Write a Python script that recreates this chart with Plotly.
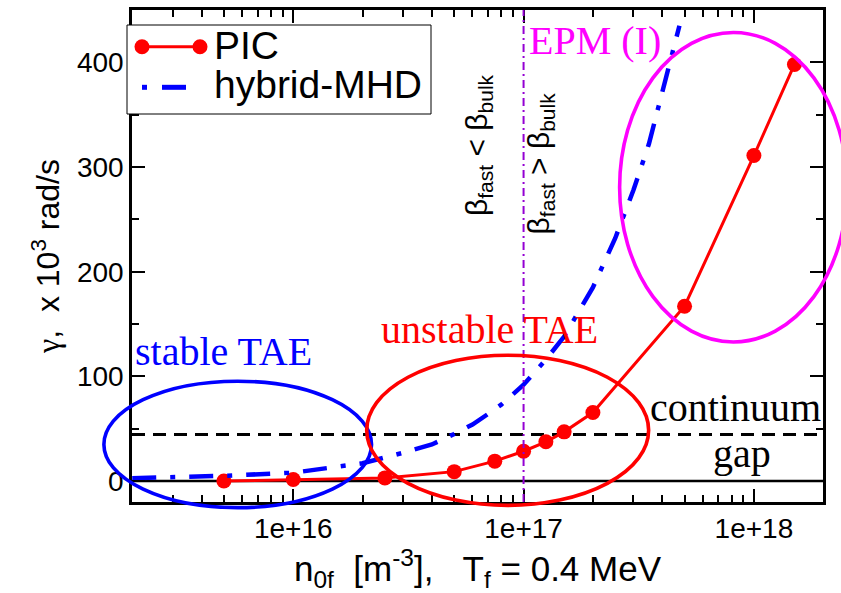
import numpy as np
import plotly.graph_objects as go

# ---- data -------------------------------------------------------------
# PIC growth rates (gamma, 10^3 rad/s) versus fast-ion density n_0f (m^-3)
pic_n = [5e15, 1e16, 2.5e16, 5e16, 7.5e16, 1e17, 1.25e17, 1.5e17, 2e17, 5e17, 1e18, 1.5e18]
pic_gamma = [0.0, 1.5, 3.0, 9.0, 19.0, 28.5, 37.5, 47.0, 65.5, 167.0, 311.0, 398.0]

# hybrid-MHD growth rates
mhd_n = [2e15, 5e15, 1e16, 2e16, 3e16, 4e16, 5e16, 6e16, 7e16, 8e16, 1e17,
         1.25e17, 1.5e17, 2e17, 2.5e17, 3e17, 3.5e17, 4e17, 4.75e17]
mhd_gamma = [2.7, 5.0, 8.0, 17.0, 27.0, 35.0, 45.0, 54.0, 64.0, 73.0, 92.0,
             116.0, 138.0, 185.0, 232.0, 278.0, 322.0, 370.0, 435.0]

continuum_edge = 44.5      # upper edge of the TAE gap
beta_cross_n = 1e17        # beta_fast = beta_bulk

x_tick_vals = [1e16, 1e17, 1e18]
y_tick_vals = [0, 100, 200, 300, 400]

# axis ranges (log10 for x)
X_RANGE = [15.3, 18.3]
Y_RANGE = [-20, 450]

# highlighted regions: (centre log10 n, centre gamma, half-width in decades, half-height, colour)
regions = [
    (15.759, 35.0, 0.581, 60.4, "#0000FF"),
    (16.931, 48.5, 0.612, 71.7, "#FF0000"),
    (17.911, 280.7, 0.494, 147.8, "#FF00FF"),
]

SANS = "Liberation Sans, Arial, sans-serif"
SERIF = "Liberation Serif, Times New Roman, serif"

W, H = 841, 593
M_L, M_R, M_T, M_B = 132, 18, 10, 91
PLOT_W = W - M_L - M_R
PLOT_H = H - M_T - M_B


def to_paper_x(logn):
    return (logn - X_RANGE[0]) / (X_RANGE[1] - X_RANGE[0])


def to_paper_y(g):
    return (g - Y_RANGE[0]) / (Y_RANGE[1] - Y_RANGE[0])


def px_x(px):
    """Page pixel column -> paper x."""
    return (px - M_L) / PLOT_W


def px_y(py):
    """Page pixel row -> paper y."""
    return (H - M_B - py) / PLOT_H


fig = go.Figure()

fig.add_trace(go.Scatter(
    x=pic_n, y=pic_gamma, mode="lines+markers", name="PIC",
    line=dict(color="#FF0000", width=3),
    marker=dict(color="#FF0000", size=15),
))
fig.add_trace(go.Scatter(
    x=mhd_n, y=mhd_gamma, mode="lines", name="hybrid-MHD",
    line=dict(color="#0000FF", width=4.5, dash="24px,14px,5px,14px"),
))

shapes = []
# zero line and continuum edge
shapes.append(dict(type="line", xref="paper", yref="y", x0=0, x1=1, y0=0, y1=0,
                   line=dict(color="black", width=2.5), layer="below"))
shapes.append(dict(type="line", xref="paper", yref="y", x0=0, x1=1,
                   y0=continuum_edge, y1=continuum_edge,
                   line=dict(color="black", width=2.8, dash="13px,8px"), layer="below"))
# beta_fast = beta_bulk boundary
shapes.append(dict(type="line", xref="x", yref="paper", x0=beta_cross_n, x1=beta_cross_n,
                   y0=0, y1=1, line=dict(color="#9400D3", width=2, dash="8px,4px,2px,4px"),
                   layer="above"))
# highlighted regions
for cx, cy, hx, hy, col in regions:
    shapes.append(dict(type="circle", xref="paper", yref="paper",
                       x0=to_paper_x(cx - hx), x1=to_paper_x(cx + hx),
                       y0=to_paper_y(cy - hy), y1=to_paper_y(cy + hy),
                       line=dict(color=col, width=3.6), layer="above"))

# ---- legend box (drawn by hand so the rows sit close together) ----------
LEG_ROW1, LEG_ROW2 = 46.7, 87.3
shapes.append(dict(type="rect", xref="paper", yref="paper",
                   x0=px_x(127), x1=px_x(431), y0=px_y(114), y1=px_y(25),
                   line=dict(color="black", width=1), fillcolor="white", layer="above"))
shapes.append(dict(type="line", xref="paper", yref="paper",
                   x0=px_x(142), x1=px_x(200), y0=px_y(LEG_ROW1), y1=px_y(LEG_ROW1),
                   line=dict(color="#FF0000", width=3), layer="above"))
for mx in (142, 200):
    shapes.append(dict(type="circle", xref="paper", yref="paper",
                       x0=px_x(mx - 7.5), x1=px_x(mx + 7.5),
                       y0=px_y(LEG_ROW1 + 7.5), y1=px_y(LEG_ROW1 - 7.5),
                       line=dict(color="#FF0000", width=0), fillcolor="#FF0000", layer="above"))
for sx0, sx1 in ((142, 147), (162, 186)):
    shapes.append(dict(type="line", xref="paper", yref="paper",
                       x0=px_x(sx0), x1=px_x(sx1), y0=px_y(LEG_ROW2), y1=px_y(LEG_ROW2),
                       line=dict(color="#0000FF", width=5), layer="above"))

annotations = [
    dict(text="stable TAE", x=15.699, y=123.5, font=dict(family=SERIF, size=40, color="#0000FF")),
    dict(text="unstable TAE", x=16.850, y=145.0, font=dict(family=SERIF, size=40, color="#FF0000")),
    dict(text="EPM (I)", x=17.311, y=420.4, font=dict(family=SERIF, size=40, color="#FF00FF")),
    dict(text="continuum", x=17.919, y=70.0, font=dict(family=SERIF, size=40, color="black")),
    dict(text="gap", x=17.948, y=26.0, font=dict(family=SERIF, size=40, color="black")),
    dict(text="\u03b2<sub>fast</sub> < \u03b2<sub>bulk</sub>", x=16.802, y=321.0, textangle=-90,
         font=dict(family=SANS, size=30, color="black")),
    dict(text="\u03b2<sub>fast</sub> > \u03b2<sub>bulk</sub>", x=17.072, y=303.6, textangle=-90,
         font=dict(family=SANS, size=30, color="black")),
]
for a in annotations:
    a.update(xref="x", yref="y", showarrow=False, xanchor="center", yanchor="middle")

for label, row in (("PIC", 46.0), ("hybrid-MHD", 84.0)):
    annotations.append(dict(text=label, xref="paper", yref="paper",
                            x=px_x(212), y=px_y(row), xanchor="left", yanchor="middle",
                            showarrow=False, font=dict(family=SANS, size=39, color="black")))

axis_common = dict(
    showline=True, linecolor="black", linewidth=2.5, mirror="ticks",
    ticks="inside", tickcolor="black", tickwidth=2, ticklen=13,
    showgrid=False, zeroline=False,
    tickfont=dict(family=SANS, size=28, color="black"),
)

fig.update_xaxes(
    type="log", range=X_RANGE, tickvals=x_tick_vals, exponentformat="e",
    minor=dict(ticks="inside", ticklen=7, tickwidth=2, tickcolor="black", dtick="D1"),
    title=dict(text="n<sub>0f</sub>\u00a0\u00a0[m<sup>-3</sup>],\u00a0\u00a0\u00a0T<sub>f</sub> = 0.4 MeV",
               font=dict(family=SANS, size=35, color="black"), standoff=6),
    **axis_common,
)
fig.update_yaxes(
    range=Y_RANGE, tickvals=y_tick_vals,
    minor=dict(ticks="inside", ticklen=7, tickwidth=2, tickcolor="black", dtick=50),
    title=dict(text="<span style=\"font-family:Liberation Serif\">\u03b3</span>,\u00a0\u00a0x 10<sup>3</sup> rad/s",
               font=dict(family=SANS, size=32, color="black"), standoff=8),
    **axis_common,
)

fig.update_layout(
    width=W, height=H,
    margin=dict(l=M_L, r=M_R, t=M_T, b=M_B, autoexpand=False),
    paper_bgcolor="white", plot_bgcolor="white",
    shapes=shapes, annotations=annotations,
    showlegend=False,
)

fig.write_html("out.html")
